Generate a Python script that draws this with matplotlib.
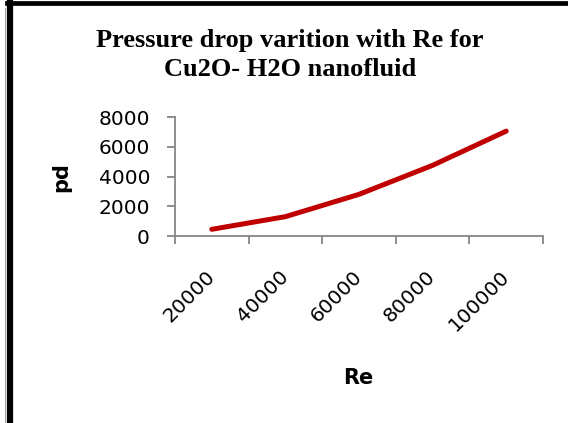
import matplotlib
matplotlib.use('Agg')
import matplotlib.pyplot as plt
from matplotlib.lines import Line2D

# data
re_labels = ['20000', '40000', '60000', '80000', '100000']
pd_values = [450, 1300, 2800, 4750, 7050]

W, H = 568, 423
fig = plt.figure(figsize=(W / 100, H / 100), dpi=100)
fig.patch.set_facecolor('white')

def fx(px):
	return px / W

def fy(py):
	return 1 - py / H

# frame pieces of the cropped excel chart
fig.add_artist(Line2D([fx(9.5), fx(9.5)], [fy(2), fy(423)], color='black', linewidth=4.5))
fig.add_artist(Line2D([fx(7), fx(568)], [fy(3.5), fy(3.5)], color='black', linewidth=3.4))
fig.add_artist(Line2D([fx(5), fx(5)], [fy(8), fy(423)], color='#a0a0a0', linewidth=0.8))

ax = fig.add_axes([fx(175), fy(236), fx(543) - fx(175), fy(117) - fy(236)])
x = list(range(len(re_labels)))
ax.plot(x, pd_values, color='#c00000', linewidth=3.6, solid_capstyle='round', solid_joinstyle='round')

ax.set_xlim(-0.5, len(re_labels) - 0.5)
ax.set_ylim(0, 8000)
ax.set_yticks([0, 2000, 4000, 6000, 8000])
ax.set_yticklabels(['0', '2000', '4000', '6000', '8000'], fontsize=14.5)
ax.set_xticks([i - 0.5 for i in range(len(re_labels) + 1)])
ax.set_xticklabels([])
ax.set_xticks(x, minor=True)
ax.set_xticklabels(re_labels, minor=True, rotation=45, ha='right', va='center',
                   rotation_mode='anchor', fontsize=14.5)

for s in ['top', 'right']:
	ax.spines[s].set_visible(False)
for s in ['left', 'bottom']:
	ax.spines[s].set_color('#868686')
	ax.spines[s].set_linewidth(1.3)
ax.tick_params(axis='both', which='major', color='#868686', length=6, width=1.3)
ax.tick_params(axis='y', pad=12)
ax.tick_params(axis='x', which='minor', length=0, pad=27)

ax.set_xlabel('Re', fontsize=15, fontweight='bold')
ax.set_ylabel('pd', fontsize=15, fontweight='bold')
ax.xaxis.set_label_coords((358 - 175) / (543 - 175), -(368 - 236) / (236 - 117))
ax.yaxis.set_label_coords(-(175 - 71) / (543 - 175), (236 - 177) / (236 - 117))

fig.text(fx(290), fy(40), 'Pressure drop varition with Re for', ha='center', va='center',
         family='Liberation Serif', fontweight='bold', fontsize=19)
fig.text(fx(290), fy(70), 'Cu2O- H2O nanofluid', ha='center', va='center',
         family='Liberation Serif', fontweight='bold', fontsize=19)

fig.savefig('out.png', dpi=100)
